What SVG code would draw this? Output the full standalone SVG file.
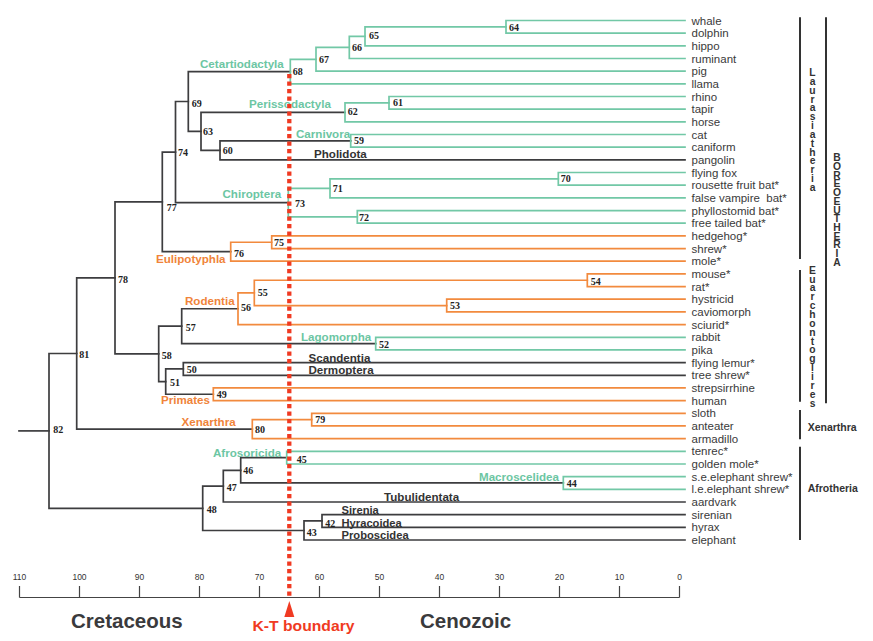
<svg xmlns="http://www.w3.org/2000/svg" width="873" height="641" viewBox="0 0 873 641">
<style>
.k{fill:none;stroke:#3d3d3f;stroke-width:1.7;stroke-linecap:square}
.g{fill:none;stroke:#72c8a6;stroke-width:1.7;stroke-linecap:square}
.o{fill:none;stroke:#f28a3e;stroke-width:1.7;stroke-linecap:square}
.leaf{font-family:"Liberation Sans",Arial,sans-serif;font-size:11.5px;fill:#3a3a3a}
.num{font-family:"Liberation Serif","Times New Roman",serif;font-size:10px;font-weight:bold;fill:#222}
.clade{font-family:"Liberation Sans",Arial,sans-serif;font-size:11.6px;font-weight:bold}
.sm{font-size:11.2px}
.cg{fill:#6cc6a3}.co{fill:#f0843a}.ck{fill:#333}
.vert{font-family:"Liberation Sans",Arial,sans-serif;font-size:10.3px;font-weight:bold;fill:#333;writing-mode:vertical-rl;text-orientation:upright}
.sidel{font-family:"Liberation Sans",Arial,sans-serif;font-size:10.5px;font-weight:bold;fill:#333}
.br{fill:none;stroke:#333;stroke-width:2}
.tick{font-family:"Liberation Sans",Arial,sans-serif;font-size:8.5px;fill:#333;text-anchor:middle}
.era{font-family:"Liberation Sans",Arial,sans-serif;font-size:20.5px;font-weight:bold;fill:#3a3a3c}
</style>
<rect width="873" height="641" fill="#fff"/>
<g id="connectors">
<path class="k" d="M19,430.9H49"/>
<path id="e82" class="k" d="M49,353.5V508.3M49,353.5H76.7M49,508.3H202.7"/>
<path id="e81" class="k" d="M76.7,277.9V429.1M76.7,277.9H115M76.7,429.1H252.3"/>
<path id="e78" class="k" d="M115,201.9V353.9M115,201.9H162.3M115,353.9H158.7"/>
<path id="e77" class="k" d="M162.3,152.1V251.7M162.3,152.1H175.5M162.3,251.7H230.7"/>
<path id="e74" class="k" d="M175.5,101.5V202.65M175.5,101.5H188.3M175.5,202.65H288.3"/>
<path id="e69" class="k" d="M188.3,71.6V131.4M188.3,71.6H290.3M188.3,131.4H201"/>
<path id="e68" class="g" d="M290.3,59.3V83.9M290.3,59.3H316M290.3,83.9H685"/>
<path id="e67" class="g" d="M316,47.4V71.2M316,47.4H349.3M316,71.2H685"/>
<path id="e66" class="g" d="M349.3,36.3V58.5M349.3,36.3H365M349.3,58.5H685"/>
<path id="e65" class="g" d="M365,26.85V45.8M365,26.85H506M365,45.8H685"/>
<path id="e64" class="g" d="M506,20.5V33.2M506,20.5H685M506,33.2H685"/>
<path id="e63" class="k" d="M201,112.4V150.4M201,112.4H345M201,150.4H220"/>
<path id="e62" class="g" d="M345,102.85V121.9M345,102.85H389M345,121.9H685"/>
<path id="e61" class="g" d="M389,96.5V109.2M389,96.5H685M389,109.2H685"/>
<path id="e60" class="k" d="M220,140.85V159.9M220,140.85H350.7M220,159.9H685"/>
<path id="e59" class="g" d="M350.7,134.5V147.2M350.7,134.5H685M350.7,147.2H685"/>
<path id="e73" class="g" d="M288.3,188.4V216.9M288.3,188.4H330M288.3,216.9H357.3"/>
<path id="e71" class="g" d="M330,178.85V197.9M330,178.85H558.3M330,197.9H685"/>
<path id="e70" class="g" d="M558.3,172.5V185.2M558.3,172.5H685M558.3,185.2H685"/>
<path id="e72" class="g" d="M357.3,210.6V223.2M357.3,210.6H685M357.3,223.2H685"/>
<path id="e76" class="o" d="M230.7,242.25V261.2M230.7,242.25H271.7M230.7,261.2H685"/>
<path id="e75" class="o" d="M271.7,235.9V248.6M271.7,235.9H685M271.7,248.6H685"/>
<path id="e58" class="k" d="M158.7,326.2V381.6M158.7,326.2H181.7M158.7,381.6H165.7"/>
<path id="e57" class="k" d="M181.7,308.75V343.6M181.7,308.75H238M181.7,343.6H375.7"/>
<path id="e56" class="o" d="M238,292.9V324.6M238,292.9H254.3M238,324.6H685"/>
<path id="e55" class="o" d="M254.3,280.25V305.55M254.3,280.25H587.3M254.3,305.55H446.7"/>
<path id="e54" class="o" d="M587.3,273.9V286.6M587.3,273.9H685M587.3,286.6H685"/>
<path id="e53" class="o" d="M446.7,299.2V311.9M446.7,299.2H685M446.7,311.9H685"/>
<path id="e52" class="g" d="M375.7,337.3V349.9M375.7,337.3H685M375.7,349.9H685"/>
<path id="e51" class="k" d="M165.7,368.95V394.25M165.7,368.95H183.3M165.7,394.25H213.3"/>
<path id="e50" class="k" d="M183.3,362.6V375.3M183.3,362.6H685M183.3,375.3H685"/>
<path id="e49" class="o" d="M213.3,387.9V400.6M213.3,387.9H685M213.3,400.6H685"/>
<path id="e80" class="o" d="M252.3,419.6V438.6M252.3,419.6H311.7M252.3,438.6H685"/>
<path id="e79" class="o" d="M311.7,413.3V425.9M311.7,413.3H685M311.7,425.9H685"/>
<path id="e48" class="k" d="M202.7,486.15V530.5M202.7,486.15H223.3M202.7,530.5H304"/>
<path id="e47" class="k" d="M223.3,470.3V502M223.3,470.3H240.7M223.3,502H685"/>
<path id="e46" class="k" d="M240.7,457.65V482.95M240.7,457.65H286.7M240.7,482.95H563.3"/>
<path id="e45" class="g" d="M286.7,451.3V464M286.7,451.3H685M286.7,464H685"/>
<path id="e44" class="g" d="M563.3,476.6V489.3M563.3,476.6H685M563.3,489.3H685"/>
<path id="e43" class="k" d="M304,520.95V540M304,520.95H322M304,540H685"/>
<path id="e42" class="k" d="M322,514.6V527.3M322,514.6H685M322,527.3H685"/>
</g>
<g id="leaves" class="leaf">
<g id="whale"><text x="691.5" y="24.5">whale</text></g>
<g id="dolphin"><text x="691.5" y="37.2">dolphin</text></g>
<g id="hippo"><text x="691.5" y="49.8">hippo</text></g>
<g id="ruminant"><text x="691.5" y="62.5">ruminant</text></g>
<g id="pig"><text x="691.5" y="75.2">pig</text></g>
<g id="llama"><text x="691.5" y="87.9">llama</text></g>
<g id="rhino"><text x="691.5" y="100.5">rhino</text></g>
<g id="tapir"><text x="691.5" y="113.2">tapir</text></g>
<g id="horse"><text x="691.5" y="125.9">horse</text></g>
<g id="cat"><text x="691.5" y="138.5">cat</text></g>
<g id="caniform"><text x="691.5" y="151.2">caniform</text></g>
<g id="pangolin"><text x="691.5" y="163.9">pangolin</text></g>
<g id="flyingfox"><text x="691.5" y="176.5">flying fox</text></g>
<g id="rousette"><text x="691.5" y="189.2">rousette fruit bat*</text></g>
<g id="falsevampire"><text x="691.5" y="201.9" xml:space="preserve">false vampire  bat*</text></g>
<g id="phyllostomid"><text x="691.5" y="214.6">phyllostomid bat*</text></g>
<g id="freetailed"><text x="691.5" y="227.2">free tailed bat*</text></g>
<g id="hedgehog"><text x="691.5" y="239.9">hedgehog*</text></g>
<g id="shrew"><text x="691.5" y="252.6">shrew*</text></g>
<g id="mole"><text x="691.5" y="265.2">mole*</text></g>
<g id="mouse"><text x="691.5" y="277.9">mouse*</text></g>
<g id="rat"><text x="691.5" y="290.6">rat*</text></g>
<g id="hystricid"><text x="691.5" y="303.2">hystricid</text></g>
<g id="caviomorph"><text x="691.5" y="315.9">caviomorph</text></g>
<g id="sciurid"><text x="691.5" y="328.6">sciurid*</text></g>
<g id="rabbit"><text x="691.5" y="341.3">rabbit</text></g>
<g id="pika"><text x="691.5" y="353.9">pika</text></g>
<g id="flyinglemur"><text x="691.5" y="366.6">flying lemur*</text></g>
<g id="treeshrew"><text x="691.5" y="379.3">tree shrew*</text></g>
<g id="strepsirrhine"><text x="691.5" y="391.9">strepsirrhine</text></g>
<g id="human"><text x="691.5" y="404.6">human</text></g>
<g id="sloth"><text x="691.5" y="417.3">sloth</text></g>
<g id="anteater"><text x="691.5" y="429.9">anteater</text></g>
<g id="armadillo"><text x="691.5" y="442.6">armadillo</text></g>
<g id="tenrec"><text x="691.5" y="455.3">tenrec*</text></g>
<g id="goldenmole"><text x="691.5" y="468">golden mole*</text></g>
<g id="seshrew"><text x="691.5" y="480.6">s.e.elephant shrew*</text></g>
<g id="leshrew"><text x="691.5" y="493.3">l.e.elephant shrew*</text></g>
<g id="aardvark"><text x="691.5" y="506">aardvark</text></g>
<g id="sirenian"><text x="691.5" y="518.6">sirenian</text></g>
<g id="hyrax"><text x="691.5" y="531.3">hyrax</text></g>
<g id="elephant"><text x="691.5" y="544">elephant</text></g>
</g>
<g id="nodes" class="num">
<g id="n64"><text x="509" y="30.7">64</text></g>
<g id="n65"><text x="369" y="39.3">65</text></g>
<g id="n66"><text x="352" y="51">66</text></g>
<g id="n67"><text x="319" y="63">67</text></g>
<g id="n68"><text x="292.7" y="74.5">68</text></g>
<g id="n69"><text x="191.7" y="106.7">69</text></g>
<g id="n63"><text x="203" y="135">63</text></g>
<g id="n62"><text x="347.7" y="115">62</text></g>
<g id="n61"><text x="393" y="106">61</text></g>
<g id="n59"><text x="354" y="144">59</text></g>
<g id="n60"><text x="222.7" y="154">60</text></g>
<g id="n74"><text x="178" y="156">74</text></g>
<g id="n77"><text x="166.7" y="211">77</text></g>
<g id="n73"><text x="295" y="206.7">73</text></g>
<g id="n71"><text x="332.7" y="191.7">71</text></g>
<g id="n72"><text x="359" y="220.7">72</text></g>
<g id="n70"><text x="560.7" y="181.7">70</text></g>
<g id="n75"><text x="274" y="246">75</text></g>
<g id="n76"><text x="234" y="256.7">76</text></g>
<g id="n78"><text x="118" y="282.7">78</text></g>
<g id="n81"><text x="79.3" y="357.7">81</text></g>
<g id="n82"><text x="53.3" y="432.7">82</text></g>
<g id="n58"><text x="161.7" y="359">58</text></g>
<g id="n57"><text x="185.7" y="330.7">57</text></g>
<g id="n56"><text x="241" y="311.3">56</text></g>
<g id="n55"><text x="257.7" y="296">55</text></g>
<g id="n54"><text x="590.7" y="285">54</text></g>
<g id="n53"><text x="450" y="309.3">53</text></g>
<g id="n52"><text x="379" y="348.3">52</text></g>
<g id="n50"><text x="186.7" y="372.7">50</text></g>
<g id="n51"><text x="170" y="385.7">51</text></g>
<g id="n49"><text x="216.7" y="397.7">49</text></g>
<g id="n79"><text x="315.3" y="423.3">79</text></g>
<g id="n80"><text x="255" y="432.7">80</text></g>
<g id="n45"><text x="296.7" y="462.7">45</text></g>
<g id="n46"><text x="243.3" y="474.3">46</text></g>
<g id="n47"><text x="226.7" y="490.7">47</text></g>
<g id="n48"><text x="206.7" y="512.7">48</text></g>
<g id="n43"><text x="306.7" y="535.7">43</text></g>
<g id="n42"><text x="325.3" y="527.3">42</text></g>
<g id="n44"><text x="566.7" y="487.3">44</text></g>
</g>
<g id="clades" class="clade">
<text class="clade cg" x="200" y="68">Cetartiodactyla</text>
<text class="clade cg" x="249" y="108.3">Perissodactyla</text>
<text class="clade cg" x="296" y="138">Carnivora</text>
<text class="clade ck" x="314" y="158">Pholidota</text>
<text class="clade cg" x="222.5" y="198.3">Chiroptera</text>
<text class="clade co" x="156" y="263.3">Eulipotyphla</text>
<text class="clade co" x="185" y="305">Rodentia</text>
<text class="clade cg" x="301" y="341">Lagomorpha</text>
<text class="clade ck" x="308.5" y="361.7">Scandentia</text>
<text class="clade ck" x="308.5" y="374.3">Dermoptera</text>
<text class="clade co" x="161" y="404.3">Primates</text>
<text class="clade co" x="181.5" y="426">Xenarthra</text>
<text class="clade cg" x="213" y="456.7">Afrosoricida</text>
<text class="clade cg" x="479" y="481">Macroscelidea</text>
<text class="clade ck" x="384" y="500.5">Tubulidentata</text>
<text class="clade ck sm" x="341.5" y="514.2">Sirenia</text>
<text class="clade ck sm" x="341.5" y="526.8">Hyracoidea</text>
<text class="clade ck sm" x="341.5" y="539.3">Proboscidea</text>
</g>
<g id="kt-line">
<path d="M289.3,74V597" fill="none" stroke="#f03a22" stroke-width="4.3" stroke-dasharray="4.2 3.3"/>
<path d="M289.3,601L284.3,617H294.3Z" fill="#f03a22"/>
</g>
<g id="superorders">
<path class="br" d="M800,17.3V259M800,270V401.7M826,17.3V403.3M800,410V439.3M800,446.7V540"/>
<text class="vert" x="812.5" y="67.2" textLength="125.6" lengthAdjust="spacing">Laurasiatheria</text>
<text class="vert" x="812.5" y="264.8" textLength="143.7" lengthAdjust="spacing">Euarchontoglires</text>
<text class="vert" x="837" y="152.3" textLength="115.5" lengthAdjust="spacing">BOREOEUTHERIA</text>
<text class="sidel" x="807.7" y="431">Xenarthra</text>
<text class="sidel" x="807.7" y="491.5">Afrotheria</text>
</g>
<g id="axis">
<path d="M19.5,597.5H679.5M19.5,586V597.5M79.5,586V597.5M139.5,586V597.5M199.5,586V597.5M259.5,586V597.5M319.5,586V597.5M379.5,586V597.5M439.5,586V597.5M499.5,586V597.5M559.5,586V597.5M619.5,586V597.5M679.5,586V597.5" fill="none" stroke="#444" stroke-width="1.2"/>
<text class="tick" x="19.5" y="579.5">110</text>
<text class="tick" x="79.5" y="579.5">100</text>
<text class="tick" x="139.5" y="579.5">90</text>
<text class="tick" x="199.5" y="579.5">80</text>
<text class="tick" x="259.5" y="579.5">70</text>
<text class="tick" x="319.5" y="579.5">60</text>
<text class="tick" x="379.5" y="579.5">50</text>
<text class="tick" x="439.5" y="579.5">40</text>
<text class="tick" x="499.5" y="579.5">30</text>
<text class="tick" x="559.5" y="579.5">20</text>
<text class="tick" x="619.5" y="579.5">10</text>
<text class="tick" x="679.5" y="579.5">0</text>
<text class="era" x="71" y="627.5">Cretaceous</text>
<text class="era" x="420" y="627.5">Cenozoic</text>
<text x="252.5" y="631" font-family="Liberation Sans, Arial, sans-serif" font-size="14.5" font-weight="bold" fill="#f03a22" textLength="102" lengthAdjust="spacingAndGlyphs">K-T boundary</text>
</g>
</svg>
